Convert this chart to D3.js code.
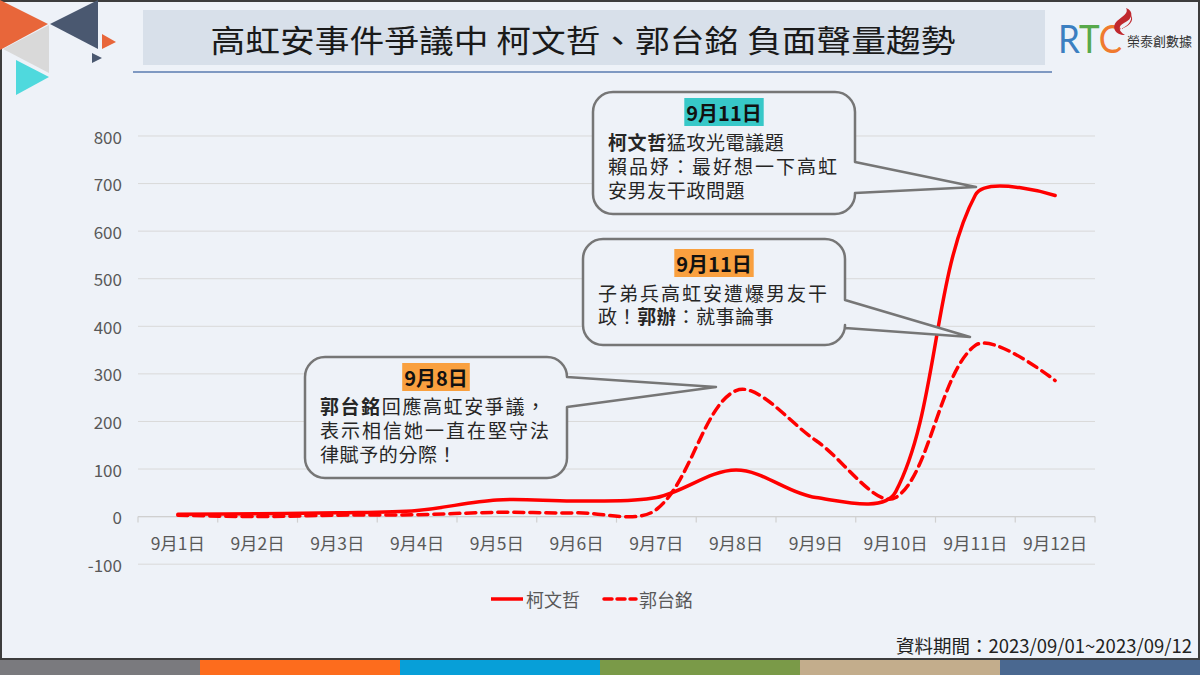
<!DOCTYPE html>
<html><head><meta charset="utf-8">
<script src="https://cdn.jsdelivr.net/npm/d3@7"></script>
<style>
body{margin:0;background:#eef2f8;}
svg{display:block;font-family:"Noto Sans CJK TC","Noto Sans",sans-serif;}
</style>
</head><body>
<svg id="c" width="1200" height="675"></svg>
<script>
// ---------- data ----------
const categories = ["9月1日","9月2日","9月3日","9月4日","9月5日","9月6日","9月7日","9月8日","9月9日","9月10日","9月11日","9月12日"];
const koValues   = [5, 6, 8, 13, 35, 33, 40, 98, 40, 52, 676, 675];
const kuoValues  = [3, 0, 3, 4, 9, 8, 15, 265, 160, 40, 360, 286];
const seriesNames = ["柯文哲", "郭台銘"];
const yTickValues = [-100, 0, 100, 200, 300, 400, 500, 600, 700, 800];
const titleText = "高虹安事件爭議中 柯文哲、郭台銘 負面聲量趨勢";
const sourceText = "資料期間：2023/09/01~2023/09/12";
const bottomBarColors = ["#7a7a7e", "#fd6c1d", "#079fd8", "#7a9a48", "#c3ad8c", "#4a6890"];

// ---------- setup ----------
const svg = d3.select("#c");
const W = 1200, H = 675;
svg.append("rect").attr("width", W).attr("height", H).attr("fill", "#eef2f8");

// frame
svg.append("rect").attr("x", 1).attr("y", 1).attr("width", W - 2).attr("height", 658)
  .attr("fill", "none").attr("stroke", "#3d3d3d").attr("stroke-width", 2);

// bottom bar
const barX = d3.scaleBand().domain(d3.range(bottomBarColors.length)).range([0, W]);
svg.selectAll("rect.bb").data(bottomBarColors).join("rect").attr("class", "bb")
  .attr("x", (d, i) => barX(i)).attr("y", 660).attr("width", barX.bandwidth() + 0.5).attr("height", 15)
  .attr("fill", d => d);

// top-left logo triangles
const tris = [
  {pts: [[0,0],[48,24],[0,50]], c: "#e8663a"},
  {pts: [[50,24],[98,0],[98,49]], c: "#4a5870"},
  {pts: [[3,49],[49,25],[49,73]], c: "#d9d9d9"},
  {pts: [[16,60],[49,77],[16,95]], c: "#4fd9dd"},
  {pts: [[102,34],[116,42],[102,49]], c: "#e8663a"},
  {pts: [[92,53],[102,58],[92,63]], c: "#4a5870"}
];
svg.selectAll("path.tri").data(tris).join("path").attr("class", "tri")
  .attr("d", d => "M" + d.pts.map(p => p.join(",")).join("L") + "Z").attr("fill", d => d.c);

// title
svg.append("rect").attr("x", 143).attr("y", 10).attr("width", 902).attr("height", 55).attr("fill", "#d8e0ea");
svg.append("text").attr("x", 583).attr("y", 38).attr("text-anchor", "middle").attr("dominant-baseline", "central")
  .attr("font-size", 31).attr("fill", "#1a1a1a").attr("textLength", 745).attr("lengthAdjust", "spacingAndGlyphs")
  .text(titleText);
svg.append("line").attr("x1", 133).attr("x2", 1052).attr("y1", 72).attr("y2", 72)
  .attr("stroke", "#5a7bb0").attr("stroke-width", 1.3);

// RTC logo
const logo = svg.append("g");
logo.append("text").attr("x", 1058).attr("y", 53).attr("font-family", "Lato, 'DejaVu Sans'").attr("font-weight", 400)
  .attr("font-size", 38).attr("textLength", 64).attr("lengthAdjust", "spacingAndGlyphs")
  .selectAll("tspan").data([["R","#3b7fc1"],["T","#57a94b"],["C","#f07a2e"]]).join("tspan")
  .attr("fill", d => d[1]).text(d => d[0]);
logo.append("path").attr("d", "M1126,8 C1134,11 1133,19 1124,23 C1118,26 1118,31 1125,35 C1115,35 1111,27 1117,21 C1123,16 1129,13 1126,8 Z")
  .attr("fill", "#c0282e");
logo.append("path").attr("d", "M1131,15 C1135,21 1128,27 1121,29 C1129,25 1132,21 1131,15 Z").attr("fill", "#c0282e");
logo.append("text").attr("x", 1127).attr("y", 46).attr("font-size", 13).attr("fill", "#333").text("榮泰創數據");

// ---------- chart ----------
const x = d3.scaleBand().domain(categories).range([138, 1095]).paddingInner(0).paddingOuter(0);
const y = d3.scaleLinear().domain([-100, 800]).range([564.2, 136]);
const cx = d => x(d) + x.bandwidth() / 2;

// gridlines
svg.append("g").selectAll("line").data(yTickValues).join("line")
  .attr("x1", 138).attr("x2", 1095).attr("y1", d => y(d)).attr("y2", d => y(d))
  .attr("stroke", "#d9d9d9").attr("stroke-width", 1);

// y labels
svg.append("g").selectAll("text").data(yTickValues).join("text")
  .attr("x", 122).attr("y", d => y(d)).attr("text-anchor", "end").attr("dominant-baseline", "central")
  .attr("font-size", 17).attr("fill", "#595959").text(d => d);

// x axis line + ticks at band boundaries
svg.append("line").attr("x1", 138).attr("x2", 1095).attr("y1", y(0)).attr("y2", y(0))
  .attr("stroke", "#d0d0d0").attr("stroke-width", 1.2);
const bounds = categories.map(d => x(d)).concat([x(categories[categories.length - 1]) + x.bandwidth()]);
svg.append("g").selectAll("line").data(bounds).join("line")
  .attr("x1", d => d).attr("x2", d => d).attr("y1", y(0)).attr("y2", y(0) + 6)
  .attr("stroke", "#d0d0d0").attr("stroke-width", 1.2);
svg.append("g").selectAll("text").data(categories).join("text")
  .attr("x", d => cx(d)).attr("y", 542).attr("text-anchor", "middle").attr("dominant-baseline", "central")
  .attr("font-size", 17.5).attr("fill", "#595959").text(d => d);

// smooth curve similar to spreadsheet smoothing
function smoothPath(pts) {
  const n = pts.length;
  const ctrl = pts.map((pt, i) => {
    if (i === 0 || i === n - 1) return {inC: pt, outC: pt};
    const a = pts[i - 1], b = pts[i + 1];
    const tx = b[0] - a[0], ty = b[1] - a[1];
    const d1 = Math.hypot(pt[0] - a[0], pt[1] - a[1]);
    const d2 = Math.hypot(b[0] - pt[0], b[1] - pt[1]);
    const s = (d1 + d2) || 1;
    return {
      inC: [pt[0] - tx * d1 / s / 3, pt[1] - ty * d1 / s / 3],
      outC: [pt[0] + tx * d2 / s / 3, pt[1] + ty * d2 / s / 3]
    };
  });
  const p = d3.path();
  p.moveTo(pts[0][0], pts[0][1]);
  for (let i = 0; i < n - 1; i++) {
    const c1 = ctrl[i].outC, c2 = ctrl[i + 1].inC;
    p.bezierCurveTo(c1[0], c1[1], c2[0], c2[1], pts[i + 1][0], pts[i + 1][1]);
  }
  return p.toString();
}
const koPts = categories.map((c, i) => [cx(c), y(koValues[i])]);
const kuoPts = categories.map((c, i) => [cx(c), y(kuoValues[i])]);

svg.append("path").attr("d", smoothPath(kuoPts)).attr("fill", "none").attr("stroke", "#ff0000")
  .attr("stroke-width", 3.5).attr("stroke-dasharray", "10,6").attr("stroke-linecap", "round");
svg.append("path").attr("d", smoothPath(koPts)).attr("fill", "none").attr("stroke", "#ff0000")
  .attr("stroke-width", 3.5).attr("stroke-linecap", "round");

// legend
const lg = svg.append("g");
lg.append("line").attr("x1", 491).attr("x2", 523).attr("y1", 599).attr("y2", 599).attr("stroke", "#ff0000").attr("stroke-width", 3.5);
lg.append("text").attr("x", 526).attr("y", 599).attr("dominant-baseline", "central").attr("font-size", 18).attr("fill", "#595959").text(seriesNames[0]);
lg.append("line").attr("x1", 604).attr("x2", 636).attr("y1", 599).attr("y2", 599).attr("stroke", "#ff0000").attr("stroke-width", 3.5)
  .attr("stroke-dasharray", "8,5").attr("stroke-linecap", "round");
lg.append("text").attr("x", 639).attr("y", 599).attr("dominant-baseline", "central").attr("font-size", 18).attr("fill", "#595959").text(seriesNames[1]);

// source
svg.append("text").attr("x", 1192).attr("y", 645).attr("text-anchor", "end").attr("dominant-baseline", "central")
  .attr("font-size", 18.5).attr("fill", "#222").text(sourceText);

// ---------- callouts ----------
const callouts = [
  {box: [593, 92, 262, 122], p1: 162, p2: 193, tip: [976, 187], head: "9月11日", headColor: "#37c8c8", headY: 112,
   lines: [
     {y: 141, parts: [["柯文哲", true], ["猛攻光電議題", false]]},
     {y: 165, ls: 2, parts: [["賴品妤：最好想一下高虹", false]]},
     {y: 189, parts: [["安男友干政問題", false]]}
   ]},
  {box: [583, 239, 262, 106], p1: 300, p2: 328, tip: [970, 337], head: "9月11日", headColor: "#f9a03f", headY: 263,
   lines: [
     {y: 292, ls: 2, parts: [["子弟兵高虹安遭爆男友干", false]]},
     {y: 315, parts: [["政！", false], ["郭辦", true], ["：就事論事", false]]}
   ]},
  {box: [305, 357, 262, 121], p1: 377, p2: 407, tip: [716, 387], head: "9月8日", headColor: "#f9a03f", headY: 377,
   lines: [
     {y: 405, ls: 1.6, parts: [["郭台銘", true], ["回應高虹安爭議，", false]]},
     {y: 429, ls: 2, parts: [["表示相信她一直在堅守法", false]]},
     {y: 453, parts: [["律賦予的分際！", false]]}
   ]}
];
function bubblePath(c) {
  const [bx, by, bw, bh] = c.box, r = 20;
  const p = d3.path();
  p.moveTo(bx + r, by);
  p.lineTo(bx + bw - r, by);
  p.arcTo(bx + bw, by, bx + bw, by + r, r);
  p.lineTo(bx + bw, c.p1);
  p.lineTo(c.tip[0], c.tip[1]);
  p.lineTo(bx + bw, c.p2);
  p.lineTo(bx + bw, by + bh - r);
  p.arcTo(bx + bw, by + bh, bx + bw - r, by + bh, r);
  p.lineTo(bx + r, by + bh);
  p.arcTo(bx, by + bh, bx, by + bh - r, r);
  p.lineTo(bx, by + r);
  p.arcTo(bx, by, bx + r, by, r);
  p.closePath();
  return p.toString();
}
callouts.forEach(c => {
  const g = svg.append("g");
  g.append("path").attr("d", bubblePath(c)).attr("fill", "#eef2f8").attr("stroke", "#767676").attr("stroke-width", 2.5)
    .attr("stroke-linejoin", "round");
  const midX = c.box[0] + c.box[2] / 2;
  const ht = g.append("text").attr("x", midX).attr("y", c.headY).attr("text-anchor", "middle").attr("dominant-baseline", "central")
    .attr("font-size", 20).attr("font-weight", 700).attr("fill", "#111").text(c.head);
  const bb = ht.node().getBBox();
  g.insert("rect", "text").attr("x", bb.x - 2).attr("y", c.headY - 14).attr("width", bb.width + 4).attr("height", 28).attr("fill", c.headColor);
  const left = c.box[0] + 15;
  // body as a single multi-line text element
  const body = g.append("text").attr("font-size", 19).attr("fill", "#262626");
  c.lines.forEach(l => {
    l.parts.forEach((pt, j) => {
      const ts = body.append("tspan").attr("font-weight", pt[1] ? 700 : 400)
        .attr("letter-spacing", l.ls || 0.6).attr("dominant-baseline", "central").text(pt[0]);
      if (j === 0) ts.attr("x", left).attr("y", l.y);
    });
  });
});
</script>
</body></html>
